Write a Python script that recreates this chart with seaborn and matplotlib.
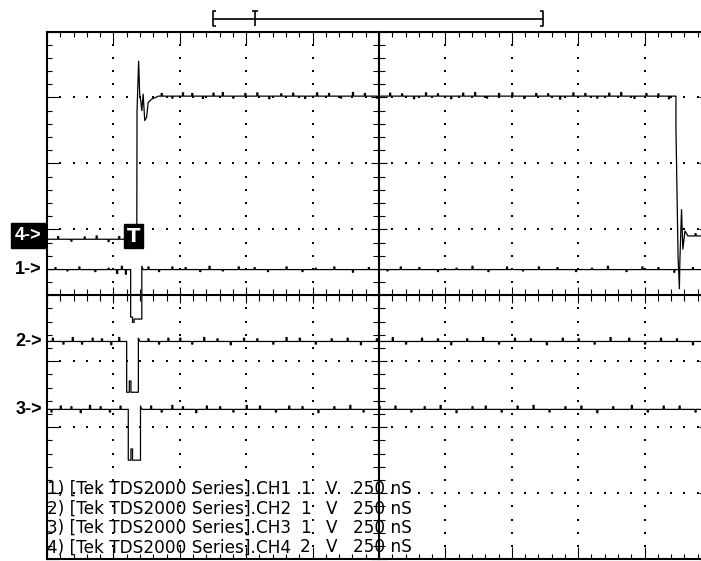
import numpy as np
import pandas as pd
import seaborn as sns
import matplotlib.pyplot as plt
from matplotlib.ticker import MultipleLocator

# scope settings
channels = ['CH1', 'CH2', 'CH3', 'CH4']
volts_per_div = [1, 1, 1, 2]
ground_div = [0.39, -0.70, -1.73, 0.90]
ns_per_div = 250

# waveforms: time (ns) / level (V)
ch1_t = [0, 315, 315, 322, 322, 328, 328, 357, 357, 362, 2500]
ch1_v = [0, 0, -0.72, -0.72, -0.8, -0.8, -0.75, -0.75, 0.05, 0, 0]
ch2_t = [0, 300, 300, 310, 310, 316, 316, 344, 344, 350, 2500]
ch2_v = [0, 0, -0.77, -0.77, -0.6, -0.6, -0.77, -0.77, 0.05, 0, 0]
ch3_t = [0, 306, 306, 316, 316, 322, 322, 352, 352, 358, 2500]
ch3_v = [0, 0, -0.77, -0.77, -0.6, -0.6, -0.77, -0.77, 0.05, 0, 0]
ch4_t = [0, 338, 339, 345, 349, 353, 357, 362, 368, 375, 381, 394, 420,
         2368, 2368, 2376, 2381, 2383, 2389, 2394, 2402, 2413, 2500]
ch4_v = [-0.1, -0.1, 3.8, 5.3, 4.3, 4.1, 3.8, 4.3, 3.5, 3.6, 4.05, 4.15, 4.24,
         4.24, 3.3, -0.65, -1.6, -0.7, 0.8, -0.4, 0.15, 0.0, 0.0]

# small noise spikes on the flat parts: time (ns) / offset (V)
ch1_gt = [30, 75, 120, 180, 230, 262, 280, 295, 380, 420, 470, 520, 575, 610, 660, 720,
          780, 830, 900, 960, 1010, 1080, 1150, 1210, 1280, 1330, 1400, 1470, 1540, 1600,
          1660, 1730, 1790, 1850, 1920, 1990, 2050, 2110, 2180, 2240, 2300, 2360, 2430]
ch1_gdv = [0.03, -0.02, 0.04, -0.03, 0.02, -0.06, 0.05, -0.07, 0.04, -0.03, 0.04, 0.03,
           -0.03, 0.05, -0.02, 0.04, 0.03, -0.03, 0.04, -0.03, 0.02, 0.04, -0.04, 0.03,
           -0.02, 0.04, 0.03, -0.03, 0.02, 0.05, -0.03, 0.04, -0.02, 0.04, 0.03, -0.03,
           0.02, 0.05, -0.03, 0.04, 0.03, -0.04, 0.03]
ch2_gt = [20, 60, 95, 130, 170, 205, 240, 270, 380, 420, 455, 500, 545, 590, 640, 690,
          740, 790, 850, 900, 950, 1010, 1070, 1130, 1180, 1240, 1300, 1350, 1410, 1470,
          1520, 1580, 1640, 1700, 1760, 1820, 1880, 1940, 2000, 2060, 2120, 2190, 2250,
          2310, 2370, 2430]
ch2_gdv = [0.05, -0.04, 0.06, -0.04, 0.05, 0.04, -0.05, 0.06, 0.04, -0.04, 0.05, 0.05,
           -0.04, 0.06, 0.04, -0.05, 0.05, 0.04, -0.04, 0.06, 0.05, -0.04, 0.04, 0.05,
           -0.05, 0.04, 0.06, -0.04, 0.05, 0.04, -0.05, 0.04, 0.06, -0.04, 0.05, 0.04,
           -0.05, 0.05, 0.04, -0.04, 0.06, 0.05, -0.04, 0.05, 0.04, -0.05]
ch3_gt = [15, 50, 90, 125, 160, 200, 235, 275, 390, 430, 470, 510, 560, 600, 650, 700,
          750, 800, 860, 910, 960, 1020, 1080, 1140, 1190, 1250, 1310, 1370, 1420, 1480,
          1540, 1600, 1650, 1710, 1770, 1830, 1890, 1950, 2010, 2070, 2130, 2200, 2260,
          2320, 2380, 2440]
ch3_gdv = [-0.04, 0.05, 0.04, -0.05, 0.06, 0.04, -0.04, 0.05, 0.05, -0.04, 0.06, 0.04,
           -0.05, 0.05, 0.04, -0.04, 0.06, 0.05, -0.04, 0.05, 0.04, -0.05, 0.04, 0.06,
           -0.04, 0.05, 0.05, -0.04, 0.04, 0.06, -0.05, 0.04, 0.05, -0.04, 0.05, 0.06,
           -0.04, 0.04, 0.05, -0.05, 0.04, 0.06, -0.04, 0.05, 0.05, -0.04]
ch4_gt = [40, 90, 140, 185, 230, 270, 300, 430, 470, 510, 545, 585, 625, 660, 700, 745,
          790, 835, 880, 925, 970, 1015, 1060, 1105, 1150, 1195, 1240, 1290, 1335, 1380,
          1425, 1470, 1520, 1565, 1610, 1655, 1700, 1750, 1795, 1840, 1885, 1930, 1980,
          2025, 2070, 2115, 2160, 2210, 2255, 2300, 2340, 2440]
ch4_gdv = [0.08, -0.06, 0.07, 0.1, -0.07, 0.08, 0.1, 0.08, -0.06, 0.1, 0.08, -0.07,
           0.09, 0.11, -0.06, 0.08, 0.1, -0.08, 0.07, 0.09, -0.07, 0.1, 0.08, -0.06,
           0.11, 0.08, -0.06, 0.09, 0.07, -0.08, 0.1, 0.07, -0.08, 0.09, 0.11, -0.06,
           0.08, 0.1, -0.07, 0.08, 0.07, -0.09, 0.1, 0.08, -0.06, 0.09, 0.11, -0.07,
           0.08, 0.07, -0.08, 0.07]

wave_t = [ch1_t, ch2_t, ch3_t, ch4_t]
wave_v = [ch1_v, ch2_v, ch3_v, ch4_v]
glitch_t = [ch1_gt, ch2_gt, ch3_gt, ch4_gt]
glitch_dv = [ch1_gdv, ch2_gdv, ch3_gdv, ch4_gdv]

# bottom readout
readout_labels = ['1) [Tek TDS2000 Series].CH1', '2) [Tek TDS2000 Series].CH2',
                  '3) [Tek TDS2000 Series].CH3', '4) [Tek TDS2000 Series].CH4']
readout_volts = ['1', '1', '1', '2']
readout_time = ['250 nS'] * 4


def with_glitches(t, v, gt, gdv, w=4):
    # put each spike on the flat level it sits on
    t = list(t)
    v = list(v)
    for a, d in zip(gt, gdv):
        i = max(k for k in range(len(t)) if t[k] <= a)
        base = v[i]
        t[i + 1:i + 1] = [a, a, a + w, a + w]
        v[i + 1:i + 1] = [base, base + d, base + d, base]
    return t, v


# long-form table in screen divisions
frames = []
for name, t, v, gt, gdv, vpd, g in zip(channels, wave_t, wave_v, glitch_t, glitch_dv,
                                         volts_per_div, ground_div):
    tt, vv = with_glitches(t, v, gt, gdv)
    frames.append(pd.DataFrame({
        'ch': name,
        'x': np.array(tt) / ns_per_div,
        'y': g + np.array(vv) / vpd,
    }))
df = pd.concat(frames, ignore_index=True)

sns.set_style('white')
plt.rcParams['font.family'] = ['DejaVu Sans']
plt.rcParams['text.color'] = 'black'

W, H = 701, 561
fig = plt.figure(figsize=(W / 100, H / 100), dpi=100)
L, T, DX, DY = 47, 31.5, 66.4, 65.95  # screen geometry in pixels
rect = [L / W, (H - T - 8 * DY) / H, 10 * DX / W, 8 * DY / H]
ax = fig.add_axes(rect)


def px(x, y):
    # pixel -> screen divisions
    return (x - L) / DX, 4 - (y - T) / DY


# dotted graticule
gx = [1, 2, 3, 4, 6, 7, 8, 9]
gy = [-3, -2, -1, 1, 2, 3]
fine = np.round(np.arange(0.2, 10, 0.2), 1)
fine_y = np.round(np.arange(-3.8, 4, 0.2), 1)
dx1, dy1 = np.meshgrid(gx, fine_y)
dx2, dy2 = np.meshgrid(fine, gy)
ax.scatter(np.r_[dx1.ravel(), dx2.ravel()], np.r_[dy1.ravel(), dy2.ravel()],
           s=0.8, marker='s', color='black', linewidths=0)

sns.lineplot(data=df, x='x', y='y', hue='ch', units='ch', estimator=None, sort=False,
             palette=['black'] * 4, legend=False, lw=0.9, ax=ax)

ax.set_xlim(0, 10)
ax.set_ylim(-4, 4)
ax.set_xlabel('')
ax.set_ylabel('')
for a in (ax.xaxis, ax.yaxis):
    a.set_major_locator(MultipleLocator(1))
    a.set_minor_locator(MultipleLocator(0.2))
ax.tick_params(which='both', direction='in', top=True, right=True, bottom=True, left=True,
               labelbottom=False, labelleft=False, width=0.8, color='black')
ax.tick_params(which='major', length=8.5)
ax.tick_params(which='minor', length=3.6)
for s in ax.spines.values():
    s.set_linewidth(1.5)
    s.set_color('black')

# center cross with ticks
ax2 = fig.add_axes(rect, sharex=ax, sharey=ax)
ax2.patch.set_visible(False)
ax2.spines['left'].set_position(('data', 5))
ax2.spines['bottom'].set_position(('data', 0))
ax2.spines['top'].set_visible(False)
ax2.spines['right'].set_visible(False)
for s in ('left', 'bottom'):
    ax2.spines[s].set_linewidth(1.5)
    ax2.spines[s].set_color('black')
ax2.tick_params(which='both', direction='inout', top=False, right=False, bottom=True, left=True,
                labelbottom=False, labelleft=False, width=0.8, color='black')
ax2.tick_params(which='major', length=11)
ax2.tick_params(which='minor', length=8)

# channel markers
lab = dict(family=['Liberation Sans', 'DejaVu Sans'], fontsize=13, fontweight='bold',
           clip_on=False, va='center')
for name, g in zip(channels[:3], ground_div[:3]):
    ax.text(px(42, 0)[0], g, name[-1] + '->', ha='right', color='black', **lab)
ax.text(px(28.5, 0)[0], ground_div[3], '4->', ha='center', color='white',
        bbox=dict(boxstyle='square,pad=0.22', fc='black', ec='black'), **lab)

# trigger marker
tx, ty = px(133.5, 236)
ax.text(tx, ty, 'T', ha='center', va='center', color='white', fontsize=14, fontweight='bold',
        bbox=dict(boxstyle='square,pad=0.15', fc='black', ec='black'), zorder=5)

# record position indicator on top
x0, yl = px(212.5, 18.5)
x1, _ = px(543, 18.5)
xt, _ = px(255, 18.5)
_, ytop = px(0, 10.5)
_, ybot = px(0, 26)
kw = dict(color='black', lw=1.2, clip_on=False, solid_capstyle='butt')
ax.plot([x0, x1], [yl, yl], **kw)
ax.plot([x0 + 0.05, x0, x0, x0 + 0.05], [ytop, ytop, ybot, ybot], **kw)
ax.plot([x1 - 0.05, x1, x1, x1 - 0.05], [ytop, ytop, ybot, ybot], **kw)
ax.plot([xt, xt], [ytop, ybot], **kw)
ax.plot([xt - 0.045, xt + 0.045], [ytop, ytop], **kw)

# readout rows
fs = 12.2
for i in range(4):
    yy = 1 - (489 + 19.5 * i) / H
    fig.text(47 / W, yy, readout_labels[i], ha='left', va='center', fontsize=fs, color='black')
    fig.text(305 / W, yy, readout_volts[i], ha='center', va='center', fontsize=fs, color='black')
    fig.text(332 / W, yy, 'V', ha='center', va='center', fontsize=fs, color='black')
    fig.text(353 / W, yy, readout_time[i], ha='left', va='center', fontsize=fs, color='black')

fig.savefig('out.png', dpi=100)
